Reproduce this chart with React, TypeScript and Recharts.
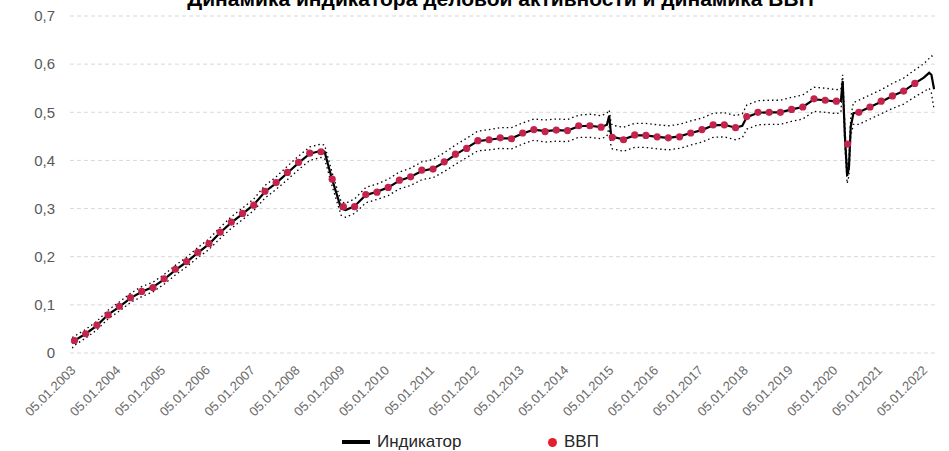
import React from "react"
import { ComposedChart, Line, Scatter, XAxis, YAxis, CartesianGrid, Legend } from "recharts"

// GDP, quarterly, starting Q1 2003
const gdpValues = [
  0.026, 0.04, 0.058, 0.079, 0.097, 0.115, 0.128, 0.136,
  0.154, 0.174, 0.19, 0.209, 0.227, 0.251, 0.272, 0.29,
  0.307, 0.336, 0.354, 0.375, 0.396, 0.415, 0.418, 0.361,
  0.304, 0.304, 0.329, 0.334, 0.344, 0.359, 0.366, 0.38,
  0.382, 0.397, 0.413, 0.425, 0.441, 0.443, 0.447, 0.445,
  0.457, 0.464, 0.46, 0.463, 0.462, 0.472, 0.472, 0.469,
  0.448, 0.443, 0.453, 0.452, 0.449, 0.447, 0.449, 0.457,
  0.464, 0.474, 0.474, 0.468, 0.491, 0.5, 0.5, 0.5,
  0.506, 0.511, 0.528, 0.525, 0.523, 0.434, 0.5, 0.511,
  0.523, 0.534, 0.544, 0.56,
]

// indicator: [date (years), value, lower band, upper band]
const indicatorPoints: [number, number, number, number][] = [
  [2002.95, 0.02, 0.01, 0.032],
  [2003.0, 0.026, 0.016, 0.035],
  [2003.25, 0.04, 0.031, 0.049],
  [2003.5, 0.057, 0.048, 0.066],
  [2003.75, 0.08, 0.071, 0.089],
  [2004.0, 0.096, 0.087, 0.106],
  [2004.25, 0.114, 0.105, 0.124],
  [2004.5, 0.127, 0.117, 0.138],
  [2004.75, 0.137, 0.127, 0.147],
  [2005.0, 0.153, 0.143, 0.163],
  [2005.25, 0.172, 0.162, 0.182],
  [2005.5, 0.189, 0.179, 0.199],
  [2005.75, 0.208, 0.198, 0.219],
  [2006.0, 0.226, 0.215, 0.237],
  [2006.25, 0.25, 0.238, 0.261],
  [2006.5, 0.271, 0.259, 0.283],
  [2006.75, 0.289, 0.277, 0.301],
  [2007.0, 0.308, 0.296, 0.32],
  [2007.25, 0.335, 0.322, 0.348],
  [2007.5, 0.353, 0.34, 0.366],
  [2007.75, 0.374, 0.36, 0.388],
  [2008.0, 0.395, 0.381, 0.409],
  [2008.25, 0.414, 0.4, 0.428],
  [2008.5, 0.42, 0.406, 0.434],
  [2008.58, 0.418, 0.404, 0.432],
  [2008.75, 0.36, 0.346, 0.374],
  [2008.95, 0.3, 0.286, 0.314],
  [2009.05, 0.297, 0.282, 0.311],
  [2009.25, 0.305, 0.29, 0.32],
  [2009.5, 0.328, 0.312, 0.344],
  [2009.75, 0.335, 0.319, 0.351],
  [2010.0, 0.344, 0.327, 0.361],
  [2010.25, 0.358, 0.341, 0.376],
  [2010.5, 0.366, 0.348, 0.384],
  [2010.75, 0.378, 0.36, 0.397],
  [2011.0, 0.383, 0.364, 0.402],
  [2011.25, 0.396, 0.377, 0.416],
  [2011.5, 0.412, 0.392, 0.432],
  [2011.75, 0.426, 0.406, 0.446],
  [2012.0, 0.44, 0.42, 0.461],
  [2012.25, 0.443, 0.422, 0.464],
  [2012.5, 0.446, 0.425, 0.468],
  [2012.75, 0.446, 0.424, 0.468],
  [2013.0, 0.456, 0.434, 0.478],
  [2013.25, 0.464, 0.442, 0.486],
  [2013.5, 0.461, 0.438, 0.484],
  [2013.75, 0.463, 0.44, 0.486],
  [2014.0, 0.462, 0.439, 0.485],
  [2014.25, 0.471, 0.448, 0.494],
  [2014.5, 0.472, 0.448, 0.496],
  [2014.75, 0.469, 0.445, 0.493],
  [2014.88, 0.474, 0.45, 0.498],
  [2014.93, 0.493, 0.47, 0.505],
  [2014.97, 0.455, 0.43, 0.479],
  [2015.0, 0.449, 0.424, 0.473],
  [2015.25, 0.444, 0.419, 0.469],
  [2015.5, 0.452, 0.427, 0.477],
  [2015.75, 0.452, 0.427, 0.477],
  [2016.0, 0.449, 0.424, 0.474],
  [2016.25, 0.447, 0.422, 0.472],
  [2016.5, 0.45, 0.425, 0.475],
  [2016.75, 0.457, 0.432, 0.482],
  [2017.0, 0.463, 0.438, 0.488],
  [2017.25, 0.473, 0.448, 0.498],
  [2017.5, 0.474, 0.449, 0.499],
  [2017.75, 0.468, 0.443, 0.493],
  [2017.9, 0.472, 0.447, 0.497],
  [2018.0, 0.49, 0.465, 0.515],
  [2018.25, 0.499, 0.474, 0.524],
  [2018.5, 0.5, 0.475, 0.525],
  [2018.75, 0.5, 0.475, 0.525],
  [2019.0, 0.506, 0.481, 0.531],
  [2019.25, 0.511, 0.486, 0.536],
  [2019.5, 0.527, 0.502, 0.552],
  [2019.75, 0.525, 0.5, 0.55],
  [2020.0, 0.522, 0.497, 0.547],
  [2020.1, 0.524, 0.5, 0.548],
  [2020.14, 0.565, 0.552, 0.578],
  [2020.19, 0.45, 0.43, 0.47],
  [2020.24, 0.368, 0.352, 0.384],
  [2020.28, 0.385, 0.368, 0.402],
  [2020.32, 0.47, 0.45, 0.49],
  [2020.38, 0.498, 0.475, 0.52],
  [2020.5, 0.5, 0.475, 0.525],
  [2020.75, 0.511, 0.486, 0.536],
  [2021.0, 0.522, 0.497, 0.547],
  [2021.25, 0.534, 0.508, 0.56],
  [2021.5, 0.544, 0.517, 0.571],
  [2021.75, 0.56, 0.532, 0.588],
  [2021.95, 0.572, 0.543, 0.601],
  [2022.07, 0.582, 0.55, 0.612],
  [2022.12, 0.578, 0.54, 0.617],
  [2022.18, 0.548, 0.505, 0.615],
]

const yearTicks = [
  2003, 2004, 2005, 2006, 2007, 2008, 2009, 2010, 2011, 2012,
  2013, 2014, 2015, 2016, 2017, 2018, 2019, 2020, 2021, 2022,
]
const yTicks = [0, 0.1, 0.2, 0.3, 0.4, 0.5, 0.6, 0.7]

const title = "Динамика индикатора деловой активности и динамика ВВП"

const gdpData = gdpValues.map((v, i) => ({ t: 2003 + i * 0.25, v }))
const indicatorData = indicatorPoints.map(([t, v, lo, hi]) => ({ t, v, lo, hi }))

const GREY = "#595959"
const DOT = "#c4234b"

const XTick = (props: any) => {
  const { x, y, payload } = props
  const ax = x + 2
  const ay = y + 10
  return (
    <text
      x={ax}
      y={ay}
      transform={`rotate(-45 ${ax} ${ay})`}
      textAnchor="end"
      fill="#6b6b6b"
      fontSize={13}
      fontFamily="Liberation Sans, Arial, sans-serif"
    >
      {`05.01.${payload.value}`}
    </text>
  )
}

const LegendContent = () => (
  <div style={{ position: "relative", height: 24, fontFamily: "Liberation Sans, Arial, sans-serif", fontSize: 17, color: "#262626" }}>
    <div style={{ position: "absolute", left: 342, top: 10, width: 28, height: 4, background: "#000" }} />
    <div style={{ position: "absolute", left: 377, top: 2, lineHeight: "20px" }}>Индикатор</div>
    <div style={{ position: "absolute", left: 548, top: 8, width: 9, height: 9, borderRadius: "50%", background: "#e41e2d" }} />
    <div style={{ position: "absolute", left: 564, top: 2, lineHeight: "20px" }}>ВВП</div>
  </div>
)

export default function App() {
  return (
    <div style={{ position: "absolute", left: 0, top: 0, width: 949, height: 451, background: "#fff", overflow: "hidden" }}>
      <div
        style={{
          position: "absolute",
          left: 0,
          width: 949,
          top: -13,
          textAlign: "center",
          fontFamily: "Liberation Sans, Arial, sans-serif",
          fontWeight: "bold",
          fontSize: 21,
          lineHeight: "24px",
          color: "#000",
          paddingLeft: 52,
          boxSizing: "border-box",
        }}
      >
        {title}
      </div>
      <ComposedChart width={949} height={451} margin={{ top: 16, right: 14, left: 0, bottom: 38 }}>
        <CartesianGrid horizontal vertical={false} stroke="#d9d9d9" strokeDasharray="4 3" />
        <XAxis
          type="number"
          dataKey="t"
          domain={[2002.9, 2022.2]}
          ticks={yearTicks}
          allowDataOverflow
          axisLine={false}
          tickLine={false}
          height={60}
          interval={0}
          tick={<XTick />}
        />
        <YAxis
          type="number"
          domain={[0, 0.7]}
          ticks={yTicks}
          width={70}
          axisLine={false}
          tickLine={false}
          tickMargin={9}
          tick={{ fill: GREY, fontSize: 15, fontFamily: "Liberation Sans, Arial, sans-serif" }}
          tickFormatter={(v: number) => (v === 0 ? "0" : v.toFixed(1).replace(".", ","))}
        />
        <Line data={indicatorData} dataKey="hi" stroke="#000" strokeWidth={1.3} strokeDasharray="1.5 3" dot={false} isAnimationActive={false} legendType="none" />
        <Line data={indicatorData} dataKey="lo" stroke="#000" strokeWidth={1.3} strokeDasharray="1.5 3" dot={false} isAnimationActive={false} legendType="none" />
        <Line data={indicatorData} dataKey="v" name="Индикатор" stroke="#000" strokeWidth={2.2} dot={false} isAnimationActive={false} />
        <Scatter
          data={gdpData}
          dataKey="v"
          name="ВВП"
          fill={DOT}
          isAnimationActive={false}
          shape={(p: any) => <circle cx={p.cx} cy={p.cy} r={3.6} fill={DOT} />}
        />
        <Legend
          verticalAlign="middle"
          align="center"
          wrapperStyle={{ left: 0, top: 430, width: 949, height: 24 }}
          content={<LegendContent />}
        />
      </ComposedChart>
    </div>
  )
}
